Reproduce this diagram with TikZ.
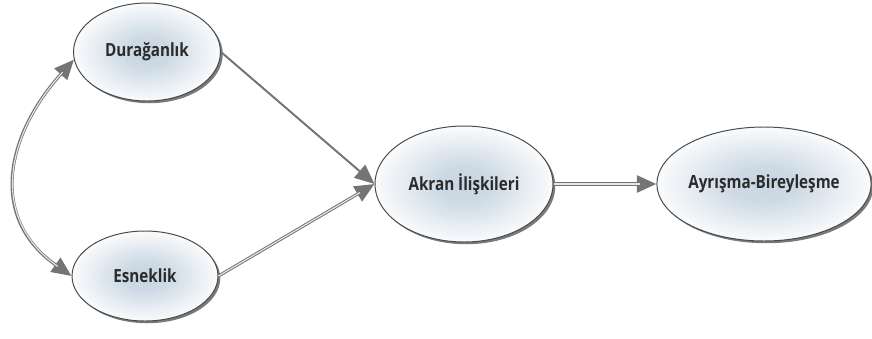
\documentclass[tikz,border=0pt]{standalone}
\usepackage{fontspec}
\newfontfamily\ovalfont[FakeStretch=0.84]{Open Sans}
\usetikzlibrary{shapes.geometric,arrows.meta,shadows}

\definecolor{ovalBorder}{HTML}{4A4A4A}
\definecolor{ovalCenter}{HTML}{C8D6E2}
\definecolor{linkGray}{HTML}{747474}
\definecolor{linkCore}{HTML}{E6E6E6}
\definecolor{labelGray}{HTML}{2B2B2B}
\pgfdeclareradialshading{ovalShade}{\pgfpoint{0bp}{0bp}}{color(0bp)=(ovalCenter); color(8bp)=(ovalCenter!90!white); color(27bp)=(white); color(50bp)=(white)}

\begin{document}
\begin{tikzpicture}[
	oval/.style={ellipse,draw=ovalBorder,line width=0.7pt,inner sep=0pt,shading=ovalShade,
		drop shadow={shadow xshift=1.6pt,shadow yshift=-1.6pt,opacity=0.65,fill=black!80},
		text=labelGray,font=\ovalfont\bfseries\fontsize{12.9}{14}\selectfont},
	link/.style={draw=linkCore,line width=0.8pt,shorten >=12pt,
		preaction={draw=linkGray,line width=2.2pt,shorten >=0pt,-{Triangle[length=14pt,width=12pt]}}},
	biLink/.style={draw=linkCore,line width=0.8pt,shorten >=12pt,shorten <=12pt,
		preaction={draw=linkGray,line width=2.2pt,shorten >=0pt,shorten <=0pt,
			{Triangle[length=14pt,width=12pt]}-{Triangle[length=14pt,width=12pt]}}},
	solidLink/.style={draw=linkGray,line width=1.4pt,-{Triangle[length=14pt,width=12pt]}}
]
			% Akran iliskileri modeli
			\useasboundingbox (0,0) rectangle (21.8,8.45);
			\node[oval,minimum width=3.675cm,minimum height=2.45cm] (Duraganlik) at (3.675,7.15) {Durağanlık};
			\node[oval,minimum width=3.65cm,minimum height=2.25cm] (Esneklik) at (3.625,1.55) {Esneklik};
			\node[oval,minimum width=4.45cm,minimum height=2.9cm] (AkranIliskileri) at (11.6,3.85) {Akran İlişkileri};
			\node[oval,minimum width=5.3cm,minimum height=2.85cm] (Ayrisma) at (19.1,3.85) {Ayrışma-Bireyleşme};
			
			\draw[biLink] (Duraganlik.186) to[out=228,in=145,looseness=1.2] (Esneklik.180);
			\draw[solidLink] (Duraganlik.east) to (AkranIliskileri.west);
			\draw[link] (Esneklik.east) to (AkranIliskileri.west);
			\draw[link] (AkranIliskileri.east) to (Ayrisma.west);
			
\end{tikzpicture}
\end{document}
